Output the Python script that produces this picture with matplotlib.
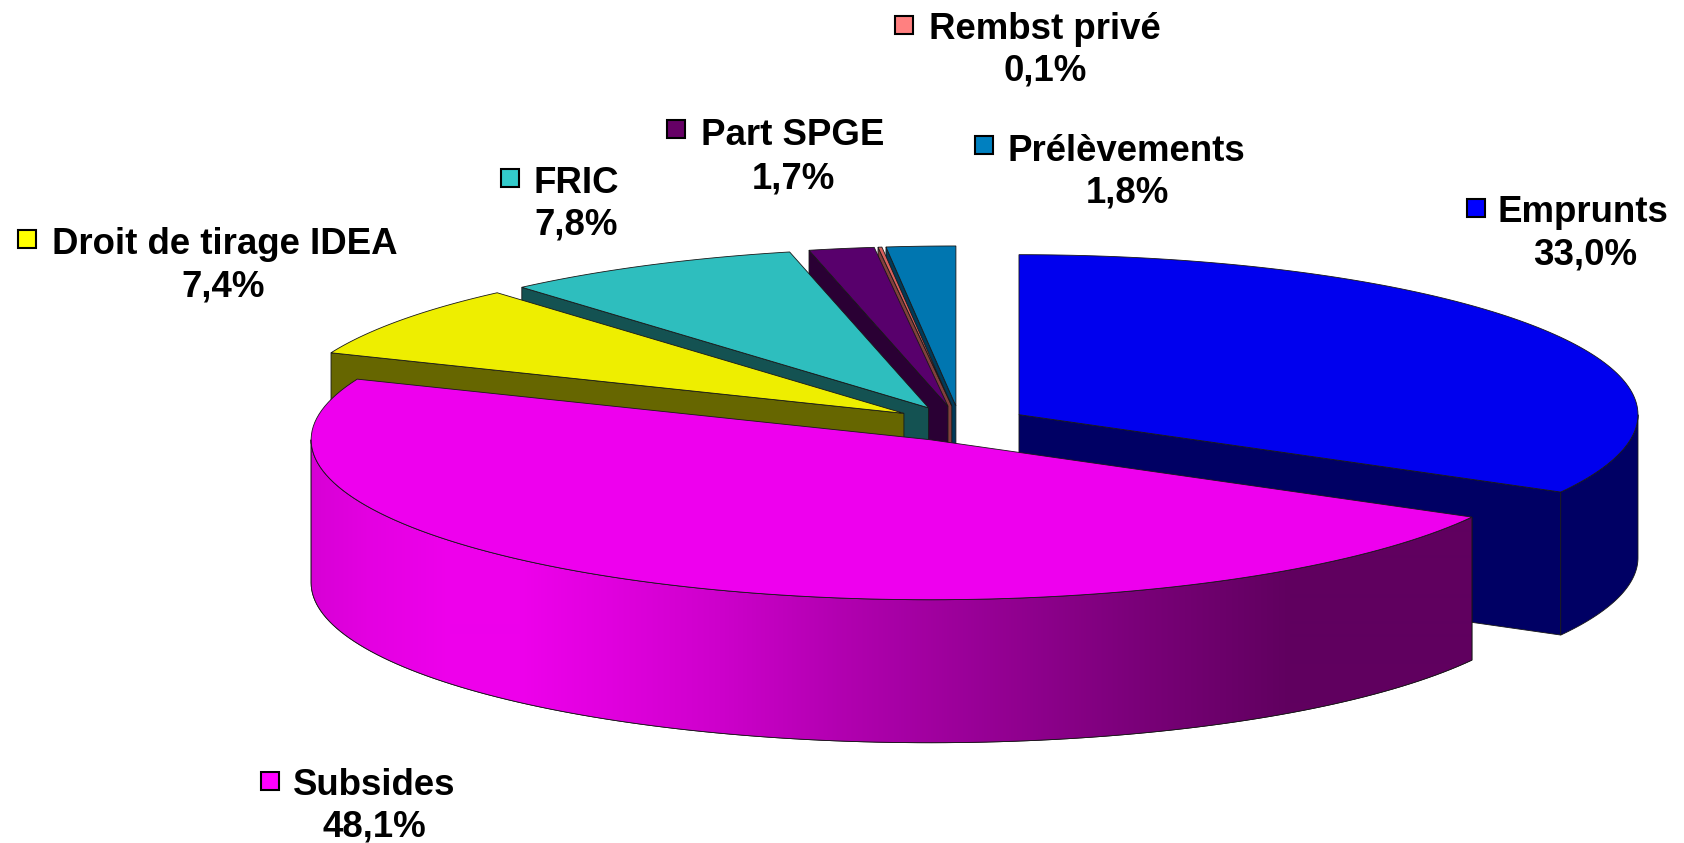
import matplotlib
matplotlib.use('Agg')
import matplotlib.pyplot as plt
import numpy as np
from matplotlib.patches import Polygon, Rectangle

# data, clockwise from 12 o'clock
labels = ['Emprunts', 'Subsides', 'Droit de tirage IDEA', 'FRIC', 'Part SPGE', 'Rembst privé', 'Prélèvements']
values = [33.0, 48.1, 7.4, 7.8, 1.7, 0.1, 1.8]

# legend key / top face / side face colours
key_colors = ['#0000ff', '#ff00ff', '#ffff00', '#33cccc', '#660066', '#ff8080', '#0080c0']
top_colors = ['#0000ee', '#ee00ee', '#eeee00', '#2ebebe', '#58006c', '#d8605c', '#0076b0']
side_colors = ['#000064', '#660066', '#666600', '#145252', '#2a0034', '#82403c', '#003a58']

# label layout: swatch centre, name left/baseline, value centre/baseline
key_pos = [(1476, 208), (270, 781), (27, 239), (510, 178), (676, 129), (904, 25), (984, 145)]
name_pos = [(1498, 222), (293, 795), (52, 254), (534, 193), (701, 145), (929, 39), (1007, 161)]
value_pos = [(1585, 264), (374, 836), (223, 296), (576, 234), (793, 188), (1045, 81), (1127, 203)]

# pie geometry in pixels
CX, CY = 959.8, 423.7
RX, RY = 619.0, 160.0
DEPTH = 143.0
EXPLODE = 0.111
EDGE = '#181818'

# gradient on the rim of the big slice (x pixel -> brightness)
grad_x = [311, 370, 450, 520, 607, 720, 840, 1000, 1150, 1290, 1480]
grad_v = [215, 228, 238, 238, 225, 205, 178, 148, 120, 96, 96]


def rim(cx, cy, a0, a1, n=120):
    t = np.radians(np.linspace(a0, a1, n))
    return np.column_stack([cx + RX * np.sin(t), cy - RY * np.cos(t)])


def radial_face(ax, cx, cy, ang, color, z):
    p = rim(cx, cy, ang, ang, 1)[0]
    pts = [(cx, cy), tuple(p), (p[0], p[1] + DEPTH), (cx, cy + DEPTH)]
    ax.add_patch(Polygon(pts, closed=True, fc=color, ec=EDGE, lw=0.6, zorder=z))


def draw_slice(ax, i, a0, a1, z):
    mid = np.radians((a0 + a1) / 2)
    cx = CX + EXPLODE * RX * np.sin(mid)
    cy = CY - EXPLODE * RY * np.cos(mid)

    if a0 > 180:
        radial_face(ax, cx, cy, a0, side_colors[i], z)
    if a1 < 180:
        radial_face(ax, cx, cy, a1, side_colors[i], z)

    # outer wall, only the part that faces us
    b0, b1 = max(a0, 90), min(a1, 270)
    if b1 > b0:
        r = rim(cx, cy, b0, b1)
        wall = np.vstack([r, (r + [0, DEPTH])[::-1]])
        patch = Polygon(wall, closed=True, fc=side_colors[i], ec=EDGE, lw=0.6, zorder=z)
        ax.add_patch(patch)
        if labels[i] == 'Subsides':
            xs = np.arange(0, 1684)
            v = np.interp(xs, grad_x, grad_v) / 255.0
            img = np.stack([v, np.zeros_like(v), v * 0.99], axis=1)[np.newaxis, :, :]
            im = ax.imshow(img, extent=(0, 1684, 843, 0), aspect='auto', zorder=z, interpolation='bilinear')
            im.set_clip_path(patch)
            ax.add_patch(Polygon(wall, closed=True, fc='none', ec=EDGE, lw=0.6, zorder=z))

    top = np.vstack([[(cx, cy)], rim(cx, cy, a0, a1)])
    ax.add_patch(Polygon(top, closed=True, fc=top_colors[i], ec=EDGE, lw=0.6, zorder=z))


def main():
    plt.rcParams['font.family'] = ['Liberation Sans', 'DejaVu Sans']
    fig = plt.figure(figsize=(16.84, 8.43), dpi=100)
    ax = fig.add_axes([0, 0, 1, 1])

    ends = np.cumsum(values) / np.sum(values) * 360.0
    starts = np.concatenate([[0.0], ends[:-1]])

    # back to front
    order = [6, 5, 4, 3, 2, 0, 1]
    for z, i in enumerate(order):
        draw_slice(ax, i, starts[i], ends[i], z + 2)

    for i, name in enumerate(labels):
        kx, ky = key_pos[i]
        ax.add_patch(Rectangle((kx - 9, ky - 9), 18, 18, fc=key_colors[i], ec='black', lw=1.5, zorder=20))
        ax.text(name_pos[i][0], name_pos[i][1], name, fontsize=26.4, fontweight='bold', ha='left', va='baseline', color='black', zorder=20)
        txt = f'{values[i]:.1f}%'.replace('.', ',')
        ax.text(value_pos[i][0], value_pos[i][1], txt, fontsize=26.4, fontweight='bold', ha='center', va='baseline', color='black', zorder=20)

    ax.set_xlim(0, 1684)
    ax.set_ylim(843, 0)
    ax.axis('off')
    fig.savefig('out.png', dpi=100, facecolor='white')


# Entry point
if __name__ == "__main__":
    main()
